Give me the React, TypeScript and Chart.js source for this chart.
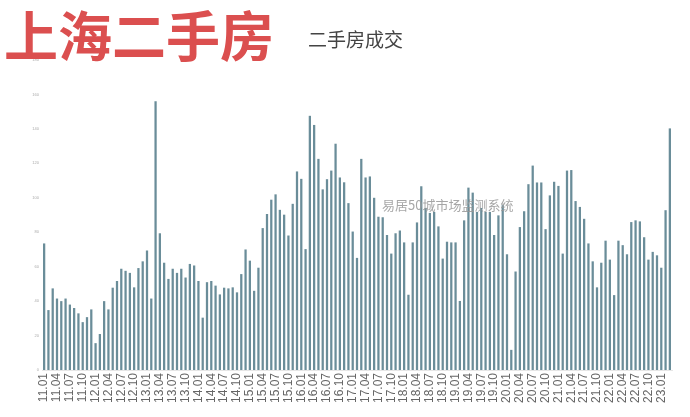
import React, { useEffect, useRef } from "react";
import { Chart, registerables } from "chart.js";

Chart.register(...registerables);

// ---- data ----
const startYear = 2011;
const monthCount = 147; // 2011.01 – 2023.03
const categories: string[] = [];
for (let i = 0; i < monthCount; i++) {
  const y = startYear + Math.floor(i / 12);
  const m = (i % 12) + 1;
  categories.push(`${String(y).slice(2)}.${m < 10 ? "0" + m : m}`);
}

const values2011 = [73.3, 34.6, 47.2, 41.3, 39.8, 41.3, 37.8, 35.8, 32.7, 27.6, 30.5, 35.0];
const values2012 = [15.4, 20.7, 39.8, 35.0, 47.6, 51.5, 58.6, 57.4, 56.2, 47.8, 59.0, 62.9];
const values2013 = [69.2, 41.3, 155.8, 79.2, 62.1, 52.7, 58.6, 56.2, 58.6, 53.5, 61.4, 60.5];
const values2014 = [51.5, 30.2, 50.8, 51.5, 48.8, 43.7, 47.6, 47.2, 47.8, 44.9, 55.5, 69.8];
const values2015 = [63.3, 45.8, 59.2, 82.2, 90.4, 98.7, 101.8, 92.8, 90.0, 77.9, 96.3, 115.1];
const values2016 = [110.8, 70.0, 147.4, 142.1, 122.4, 104.7, 110.6, 115.6, 131.2, 111.6, 108.8, 96.7];
const values2017 = [80.2, 64.9, 122.4, 111.6, 112.2, 99.8, 88.8, 88.5, 78.2, 67.4, 79.2, 80.8];
const values2018 = [73.9, 43.5, 73.9, 85.5, 106.5, 93.9, 91.0, 91.6, 83.2, 64.5, 74.3, 73.9];
const values2019 = [73.9, 39.9, 86.7, 105.7, 102.8, 91.6, 93.9, 91.6, 91.6, 78.2, 89.6, 95.5];
const values2020 = [67.0, 11.5, 57.0, 82.8, 92.0, 107.7, 118.5, 108.7, 108.7, 81.6, 101.2, 109.1];
const values2021 = [106.7, 67.4, 115.6, 115.9, 97.9, 94.5, 87.6, 73.3, 62.9, 47.8, 62.1, 74.9];
const values2022 = [63.9, 43.3, 74.9, 72.3, 67.0, 85.7, 86.7, 86.1, 76.9, 63.9, 68.4, 66.4];
const values2023 = [59.2, 92.6, 140.1];

const seriesValues = [
  ...values2011, ...values2012, ...values2013, ...values2014, ...values2015,
  ...values2016, ...values2017, ...values2018, ...values2019, ...values2020,
  ...values2021, ...values2022, ...values2023,
];

const yTicks = [0, 20, 40, 60, 80, 100, 120, 140, 160, 180];

const titleText = "上海二手房";
const subtitleText = "二手房成交";
const watermarkText = "易居50城市场监测系统";

export default function App() {
  const canvasRef = useRef<HTMLCanvasElement | null>(null);

  useEffect(() => {
    document.body.style.margin = "0";
    const canvas = canvasRef.current;
    if (!canvas) return;

    const watermark = {
      id: "watermark",
      afterDatasetsDraw(chart: any) {
        const ctx = chart.ctx;
        ctx.save();
        ctx.font = '13px "Noto Sans CJK SC", sans-serif';
        ctx.fillStyle = "rgba(150,150,150,0.85)";
        ctx.textAlign = "left";
        ctx.textBaseline = "middle";
        ctx.fillText(watermarkText, 382, 205);
        ctx.restore();
      },
    };

    const chart = new Chart(canvas, {
      type: "bar",
      data: {
        labels: categories,
        datasets: [
          {
            data: seriesValues,
            backgroundColor: "#6a8d99",
            barThickness: 1.6,
          },
        ],
      },
      options: {
        animation: false,
        responsive: false,
        maintainAspectRatio: false,
        layout: { padding: { top: 60, right: 18, left: 0, bottom: 0 } },
        plugins: {
          legend: { display: false },
          tooltip: { enabled: false },
        },
        scales: {
          x: {
            offset: true,
            grid: { display: false, drawTicks: false },
            border: { display: true, color: "#e6e6e6" },
            ticks: {
              autoSkip: false,
              maxRotation: 90,
              minRotation: 90,
              padding: 3,
              color: "#666",
              font: { family: '"Liberation Sans", Arial, sans-serif', size: 12 },
              callback: (_v: any, i: number) => (i % 3 === 0 ? categories[i] : ""),
            },
            afterFit: (scale: any) => {
              scale.height = 47;
            },
          },
          y: {
            min: 0,
            max: 180,
            afterBuildTicks: (scale: any) => {
              scale.ticks = yTicks.map((v) => ({ value: v }));
            },
            grid: { display: false, drawTicks: false },
            border: { display: false },
            ticks: {
              padding: 3,
              color: "#aaa",
              font: { family: '"Liberation Sans", Arial, sans-serif', size: 4 },
            },
            afterFit: (scale: any) => {
              scale.width = 42;
            },
          },
        },
      },
      plugins: [watermark],
    });

    return () => chart.destroy();
  }, []);

  return (
    <div style={{ position: "relative", width: 690, height: 417, background: "#fff", overflow: "hidden" }}>
      <canvas ref={canvasRef} width={690} height={417} style={{ position: "absolute", left: 0, top: 0 }} />
      <div
        style={{
          position: "absolute",
          left: 4,
          top: 7,
          fontFamily: '"Noto Sans CJK SC", sans-serif',
          fontWeight: 700,
          fontSize: 54,
          lineHeight: 1,
          color: "#db4f4f",
          whiteSpace: "nowrap",
        }}
      >
        {titleText}
      </div>
      <div
        style={{
          position: "absolute",
          left: 308,
          top: 29,
          fontFamily: '"Noto Sans CJK SC", sans-serif',
          fontSize: 19,
          lineHeight: 1,
          color: "#444",
          whiteSpace: "nowrap",
        }}
      >
        {subtitleText}
      </div>
    </div>
  );
}
